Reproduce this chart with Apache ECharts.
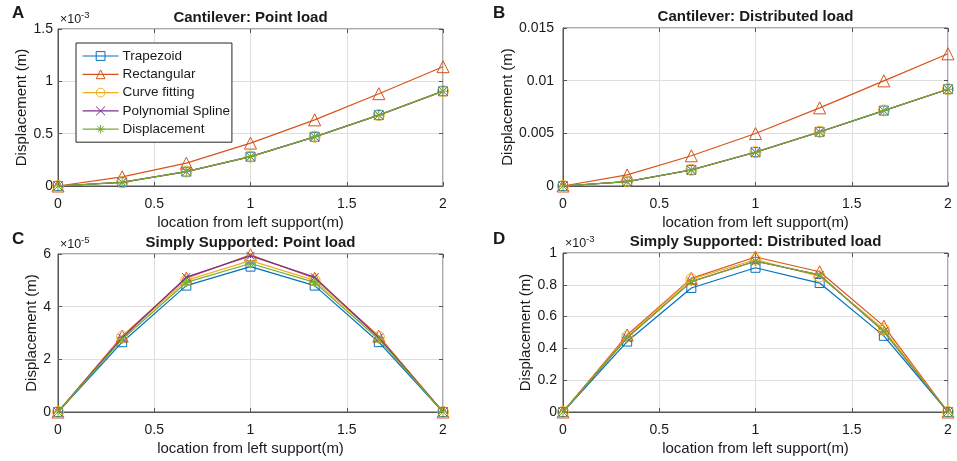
<!DOCTYPE html>
<html>
<head>
<meta charset="utf-8">
<script src="https://cdn.jsdelivr.net/npm/echarts@6.0.0/dist/echarts.min.js"></script>
<style>
	html, body { margin: 0; padding: 0; background: #fff; }
	#main { width: 957px; height: 461px; }
</style>
</head>
<body>
<div id="main"></div>
<script>
// x locations along the beam (m)
var locations = [0, 0.3333, 0.6667, 1, 1.3333, 1.6667, 2];

var methodNames = ['Trapezoid', 'Rectangular', 'Curve fitting', 'Polynomial Spline', 'Displacement'];

// A: cantilever, point load (x 1e-3 m)
var cantPointTrap = [0, 0.036, 0.137, 0.28, 0.47, 0.677, 0.905];
var cantPointRect = [0, 0.088, 0.218, 0.41, 0.632, 0.882, 1.14];
var cantPointCurve = [0, 0.037, 0.138, 0.281, 0.471, 0.678, 0.907];
var cantPointSpline = [0, 0.035, 0.137, 0.28, 0.47, 0.677, 0.906];
var cantPointDisp = [0, 0.035, 0.137, 0.28, 0.47, 0.677, 0.906];

// B: cantilever, distributed load (m)
var cantDistTrap = [0, 0.00042, 0.00153, 0.00321, 0.00514, 0.00716, 0.00919];
var cantDistRect = [0, 0.00105, 0.00287, 0.00498, 0.00742, 0.00998, 0.01255];
var cantDistCurve = [0, 0.00043, 0.00154, 0.00322, 0.00515, 0.00717, 0.0092];
var cantDistSpline = [0, 0.00041, 0.00152, 0.0032, 0.00513, 0.00715, 0.00918];
var cantDistDisp = [0, 0.00041, 0.00152, 0.0032, 0.00513, 0.00715, 0.00918];

// C: simply supported, point load (x 1e-5 m)
var ssPointTrap = [0, 2.65, 4.8, 5.52, 4.8, 2.65, 0];
var ssPointRect = [0, 2.88, 5.08, 5.97, 5.08, 2.88, 0];
var ssPointCurve = [0, 2.85, 5.0, 5.75, 5.0, 2.85, 0];
var ssPointSpline = [0, 2.82, 5.12, 5.93, 5.12, 2.82, 0];
var ssPointDisp = [0, 2.76, 4.92, 5.64, 4.92, 2.76, 0];

// D: simply supported, distributed load (x 1e-3 m)
var ssDistTrap = [0, 0.443, 0.78, 0.907, 0.811, 0.479, 0];
var ssDistRect = [0, 0.484, 0.84, 0.975, 0.882, 0.54, 0];
var ssDistCurve = [0, 0.475, 0.835, 0.958, 0.853, 0.52, 0];
var ssDistSpline = [0, 0.466, 0.82, 0.948, 0.862, 0.506, 0];
var ssDistDisp = [0, 0.466, 0.82, 0.948, 0.862, 0.506, 0];

var yAxisMax = [1.5, 0.015, 6, 1];
var yAxisStep = [0.5, 0.005, 2, 0.2];

var panelData = [
	[cantPointTrap, cantPointRect, cantPointCurve, cantPointSpline, cantPointDisp],
	[cantDistTrap, cantDistRect, cantDistCurve, cantDistSpline, cantDistDisp],
	[ssPointTrap, ssPointRect, ssPointCurve, ssPointSpline, ssPointDisp],
	[ssDistTrap, ssDistRect, ssDistCurve, ssDistSpline, ssDistDisp]
];
var panelTitles = ['Cantilever: Point load', 'Cantilever: Distributed load', 'Simply Supported: Point load', 'Simply Supported: Distributed load'];
var panelLetters = ['A', 'B', 'C', 'D'];
var panelExponents = ['-3', null, '-5', '-3'];

(function() {
	var FONT = '"Liberation Sans", Arial, Helvetica, sans-serif';
	var TEXT = '#1a1a1a';
	var BOX = '#555555';
	var colors = ['#0072BD', '#D95319', '#EDB120', '#7E2F8E', '#77AC30'];
	var symbols = [
		'rect',
		'triangle',
		'circle',
		'path://M0,0L10,10M10,0L0,10',
		'path://M5,0L5,10M0,5L10,5M1.5,1.5L8.5,8.5M8.5,1.5L1.5,8.5'
	];
	var symbolSizes = [9, 12, 11, 8, 9];

	// plot areas (px)
	var boxes = [
		{ left : 58, top : 29, width : 385, height : 157 },
		{ left : 563, top : 28, width : 385, height : 158 },
		{ left : 58, top : 254, width : 385, height : 158 },
		{ left : 563, top : 253, width : 385, height : 159 }
	];
	var yNameGaps = [28, 46, 18, 28];
	var yLabelMargins = [5, 9, 7, 6];

	var grids = [], xAxes = [], yAxes = [], series = [], graphics = [];
	var tick = { show : true, inside : true, length : 4, lineStyle : { color : BOX } };

	for (var p = 0; p < 4; p++) {
		var b = boxes[p];
		grids.push({
			left : b.left,
			top : b.top,
			width : b.width,
			height : b.height,
			show : true,
			borderColor : BOX,
			borderWidth : 1,
			backgroundColor : '#fff',
			containLabel : false,
			outerBoundsMode : 'none'
		});
		xAxes.push({
			type : 'value',
			gridIndex : p,
			min : 0,
			max : 2,
			interval : 0.5,
			name : 'location from left support(m)',
			nameLocation : 'middle',
			nameGap : 29,
			nameTextStyle : { fontFamily : FONT, fontSize : 15, color : TEXT },
			axisLine : { show : true, onZero : false, lineStyle : { color : BOX } },
			axisTick : tick,
			axisLabel : { fontFamily : FONT, fontSize : 14, color : TEXT, margin : 11 },
			splitLine : { show : true, lineStyle : { color : '#dedede', width : 1 } }
		});
		// top ticks
		xAxes.push({
			type : 'value',
			gridIndex : p,
			position : 'top',
			min : 0,
			max : 2,
			interval : 0.5,
			axisLine : { show : false, onZero : false },
			axisTick : tick,
			axisLabel : { show : false },
			splitLine : { show : false }
		});
		yAxes.push({
			type : 'value',
			gridIndex : p,
			min : 0,
			max : yAxisMax[p],
			interval : yAxisStep[p],
			name : 'Displacement (m)',
			nameLocation : 'middle',
			nameGap : yNameGaps[p],
			nameTextStyle : { fontFamily : FONT, fontSize : 15, color : TEXT },
			axisLine : { show : true, onZero : false, lineStyle : { color : BOX } },
			axisTick : tick,
			axisLabel : { fontFamily : FONT, fontSize : 14, color : TEXT, margin : yLabelMargins[p] },
			splitLine : { show : true, lineStyle : { color : '#dedede', width : 1 } }
		});
		// right ticks
		yAxes.push({
			type : 'value',
			gridIndex : p,
			position : 'right',
			min : 0,
			max : yAxisMax[p],
			interval : yAxisStep[p],
			axisLine : { show : false, onZero : false },
			axisTick : tick,
			axisLabel : { show : false },
			splitLine : { show : false }
		});

		for (var m = 0; m < 5; m++) {
			var values = panelData[p][m];
			var data = [];
			for (var i = 0; i < locations.length; i++) {
				data.push([locations[i], values[i]]);
			}
			series.push({
				name : methodNames[m],
				type : 'line',
				xAxisIndex : p * 2,
				yAxisIndex : p * 2,
				data : data,
				symbol : symbols[m],
				symbolSize : symbolSizes[m],
				showAllSymbol : true,
				smooth : false,
				lineStyle : { color : colors[m], width : 1.2 },
				itemStyle : { color : 'rgba(255,255,255,0)', borderColor : colors[m], borderWidth : 1 },
				emphasis : { disabled : true },
				z : 2 + m
			});
		}

		// panel title
		graphics.push({
			type : 'text',
			x : b.left + b.width / 2,
			y : b.top - 11,
			style : { text : panelTitles[p], font : 'bold 15px ' + FONT, fill : TEXT, textAlign : 'center', textVerticalAlign : 'middle' }
		});
		// panel letter
		graphics.push({
			type : 'text',
			x : (p % 2 == 0 ? 12 : 493),
			y : (p < 2 ? 13 : 239),
			style : { text : panelLetters[p], font : 'bold 17px ' + FONT, fill : TEXT, textAlign : 'left', textVerticalAlign : 'middle' }
		});
		// exponent label
		if (panelExponents[p]) {
			graphics.push({
				type : 'text',
				x : b.left + 2,
				y : b.top - 9,
				style : { text : '×10', font : '12.5px ' + FONT, fill : TEXT, textAlign : 'left', textVerticalAlign : 'middle' }
			});
			graphics.push({
				type : 'text',
				x : b.left + 23,
				y : b.top - 14,
				style : { text : panelExponents[p], font : '9.5px ' + FONT, fill : TEXT, textAlign : 'left', textVerticalAlign : 'middle' }
			});
		}
	}

	var options = {
		animation : false,
		backgroundColor : '#fff',
		grid : grids,
		xAxis : xAxes,
		yAxis : yAxes,
		legend : {
			data : methodNames,
			orient : 'vertical',
			left : 76,
			top : 43,
			padding : [6, 2, 6, 6],
			itemWidth : 36,
			itemHeight : 11,
			itemGap : 4.3,
			backgroundColor : '#fff',
			borderColor : '#262626',
			borderWidth : 1,
			borderRadius : 0,
			itemStyle : { borderWidth : 1 },
			lineStyle : { width : 1.2 },
			textStyle : { fontFamily : FONT, fontSize : 13.5, color : TEXT, padding : [0, 0, 0, -1] },
			selectedMode : false,
			z : 10
		},
		graphic : graphics,
		series : series
	};

	var chart = echarts.init(document.getElementById('main'));
	chart.setOption(options);
})();
</script>
</body>
</html>
